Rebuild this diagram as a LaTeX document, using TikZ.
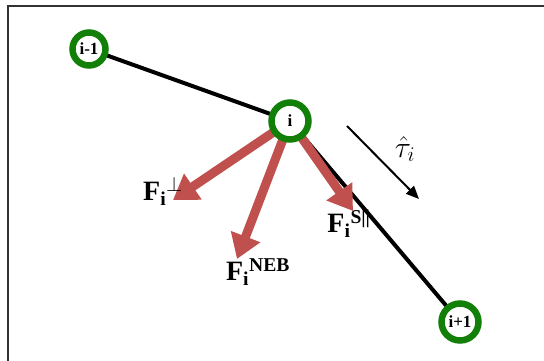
\documentclass[tikz,border=0pt]{standalone}
\usepackage{graphicx}
\usepackage{fontspec}
\setmainfont{Liberation Serif}
\usetikzlibrary{arrows.meta,shadows,backgrounds}
\definecolor{ringgreen}{RGB}{18,128,8}
\definecolor{fred}{RGB}{192,80,77}
\tikzset{
  site/.style={circle, draw=ringgreen, line width=6.5pt, fill=white,
    minimum size=#1, inner sep=0pt,
    font=\bfseries\fontsize{17}{17}\selectfont,
    drop shadow={opacity=0.25, shadow xshift=1.5pt, shadow yshift=-2.5pt}},
  bond/.style={line width=4pt, black},
  force/.style={fred, line width=9pt, -{Triangle[length=24pt,width=30pt]}},
  flabel/.style={font=\bfseries\fontsize{28}{28}\selectfont, inner sep=0pt},
  tlabel/.style={font=\fontsize{20}{20}\selectfont, inner sep=0pt},
  tangent/.style={line width=2pt, -{Triangle[length=13pt,width=11pt]}},
  frame/.style={draw=black!80, line width=1.5pt}
}
\begin{document}
\begin{tikzpicture}[x=1pt,y=-1pt]
  \useasboundingbox (0,0) rectangle (544,361);
  \begin{scope}
    \clip (0,0) rectangle (544,361);
    \draw[frame] (8,6) rectangle (600,420);
  \end{scope}
  % sites
  \node[site=33pt] (im1) at (89,49) {i-1};
  \node[site=37pt] (i) at (290,121) {i};
  \node[site=37pt] (ip1) at (460,322) {i+1};
  % force tips
  \coordinate (tperp) at (173,200);
  \coordinate (tneb) at (237,259);
  \coordinate (tspar) at (353,211);
  \begin{pgfonlayer}{background}
    \draw[bond] (im1.center) -- (i.center);
    \draw[bond] (i.center) -- (ip1.center);
    \draw[force] (i.center) -- (tperp);
    \draw[force] (i.center) -- (tneb);
    \draw[force] (i.center) -- (tspar);
  \end{pgfonlayer}
  % labels
  \node[flabel] (lperp) at (163,191) {F\textsubscript{i}\textsuperscript{$\perp$}};
  \node[flabel] (lneb) at (258,272) {F\textsubscript{i}\textsuperscript{NEB}};
  \node[flabel] (lspar) at (349,224) {F\textsubscript{i}\textsuperscript{S||}};
  % tangent
  \coordinate (ts) at (347,126);
  \coordinate (te) at (419,199);
  \draw[tangent] (ts) -- (te);
  \node[tlabel] (tau) at (405,149) {\scalebox{1.45}{$\hat{\tau}_i$}};
\end{tikzpicture}
\end{document}
